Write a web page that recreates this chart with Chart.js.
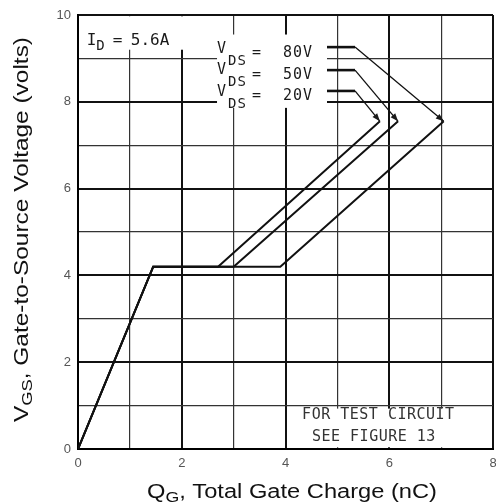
<!DOCTYPE html>
<html><head><meta charset="utf-8">
<script src="https://cdn.jsdelivr.net/npm/chart.js@4/dist/chart.umd.min.js"></script>
<style>html,body{margin:0;padding:0;background:#fff}</style>
</head><body>
<canvas id="c" width="496" height="504"></canvas>
<script>
// ---- data ----
const xTickLabels = [0, 2, 4, 6, 8];
const yTickLabels = [0, 2, 4, 6, 8, 10];
const seriesNames = ['20V', '50V', '80V'];
const q20 = [0, 1.45, 2.70, 5.82];
const v20 = [0, 4.2, 4.2, 7.55];
const q50 = [0, 1.45, 3.00, 6.17];
const v50 = [0, 4.2, 4.2, 7.55];
const q80 = [0, 1.45, 3.90, 7.05];
const v80 = [0, 4.2, 4.2, 7.55];

const toPts = (xs, ys) => xs.map((x, i) => ({x: x, y: ys[i]}));
const curves = [toPts(q20, v20), toPts(q50, v50), toPts(q80, v80)];

const MONO = '"DejaVu Sans Mono", monospace';
const SANS = '"Liberation Sans", Arial, sans-serif';

const annot = {
  id: 'annot',
  beforeDatasetsDraw(chart) {
    const {ctx, scales: {x, y}} = chart;
    const boxes = [[0.04, 2.5, 9.2, 9.97], [2.68, 4.8, 7.86, 9.55], [4.1, 7.96, 0.04, 0.93]];
    ctx.save();
    ctx.fillStyle = '#fff';
    boxes.forEach(b => {
      const x0 = x.getPixelForValue(b[0]), x1 = x.getPixelForValue(b[1]);
      const y0 = y.getPixelForValue(b[3]), y1 = y.getPixelForValue(b[2]);
      ctx.fillRect(x0, y0, x1 - x0, y1 - y0);
    });
    ctx.restore();
  },
  afterDatasetsDraw(chart) {
    const {ctx, scales: {x, y}} = chart;
    const X = v => x.getPixelForValue(v), Y = v => y.getPixelForValue(v);
    ctx.save();
    ctx.fillStyle = '#1a1a1a';
    ctx.strokeStyle = '#111';
    ctx.textBaseline = 'alphabetic';
    ctx.textAlign = 'left';
    // I_D = 5.6A
    let ax = X(0.17), ay = Y(9.31);
    ctx.font = '16px ' + MONO;
    ctx.fillText('I', ax, ay);
    ctx.font = '14px ' + MONO;
    ctx.fillText('D', ax + 9.5, ay + 5.5);
    ctx.font = '16px ' + MONO;
    ctx.fillText('=', ax + 26, ay);
    ctx.fillText('5.6A', ax + 44, ay);
    // VDS labels (80, 50, 20)
    const rowY = [9.03, 8.53, 8.03];
    const dashY = [9.26, 8.73, 8.25];
    const order = [2, 1, 0];
    order.forEach((si, r) => {
      const bx = X(2.68), by = Y(rowY[r]);
      ctx.font = '15px ' + MONO;
      ctx.letterSpacing = '0px';
      ctx.fillText('V', bx, by - 4.3);
      ctx.font = '14px ' + MONO;
      ctx.letterSpacing = '1px';
      ctx.fillText('DS', bx + 11, by + 7.7);
      ctx.font = '15px ' + MONO;
      ctx.letterSpacing = '0px';
      ctx.fillText('=', bx + 35, by);
      ctx.letterSpacing = '1px';
      ctx.fillText(seriesNames[si], bx + 66, by);
      ctx.letterSpacing = '0px';
      // dash
      const dy = Y(dashY[r]);
      ctx.lineWidth = 2.6;
      ctx.beginPath();
      ctx.moveTo(X(4.8), dy); ctx.lineTo(X(5.34), dy);
      ctx.stroke();
      // leader with arrow
      const pts = curves[si];
      const tip = pts[pts.length - 1];
      const sx = X(5.34), sy = dy, tx = X(tip.x), ty = Y(tip.y);
      ctx.lineWidth = 1.3;
      ctx.beginPath();
      ctx.moveTo(sx, sy); ctx.lineTo(tx, ty);
      ctx.stroke();
      const ang = Math.atan2(ty - sy, tx - sx);
      const L = 8, W = 3;
      ctx.beginPath();
      ctx.moveTo(tx, ty);
      ctx.lineTo(tx - L * Math.cos(ang) + W * Math.sin(ang), ty - L * Math.sin(ang) - W * Math.cos(ang));
      ctx.lineTo(tx - L * Math.cos(ang) - W * Math.sin(ang), ty - L * Math.sin(ang) + W * Math.cos(ang));
      ctx.closePath();
      ctx.fill();
    });
    // test circuit note
    ctx.font = '15px ' + MONO;
    ctx.letterSpacing = '0.5px';
    ctx.fillStyle = '#333';
    ctx.fillText('FOR TEST CIRCUIT', X(4.32), Y(0.69));
    ctx.fillText('SEE FIGURE 13', X(4.51), Y(0.18));
    ctx.letterSpacing = '0px';
    ctx.restore();
  },
  afterDraw(chart) {
    const {ctx} = chart;
    ctx.save();
    ctx.fillStyle = '#111';
    ctx.textAlign = 'left';
    ctx.textBaseline = 'alphabetic';
    const big = '20px ' + SANS, small = '15px ' + SANS;
    // draws a title with a subscript, stretched along its direction to a target length
    const drawSub = (parts, cx, base, target) => {
      let w = 0;
      parts.forEach(p => { ctx.font = p[1] ? small : big; w += ctx.measureText(p[0]).width; });
      const k = target / w;
      ctx.save();
      ctx.translate(cx, base);
      ctx.scale(k, 1);
      let px = -w / 2;
      parts.forEach(p => {
        ctx.font = p[1] ? small : big;
        ctx.fillText(p[0], px, p[1] ? 4 : 0);
        px += ctx.measureText(p[0]).width;
      });
      ctx.restore();
    };
    drawSub([['Q', 0], ['G', 1], [', Total Gate Charge (nC)', 0]], 292, 498, 290);
    ctx.translate(28, 229.5);
    ctx.rotate(-Math.PI / 2);
    drawSub([['V', 0], ['GS', 1], [', Gate-to-Source Voltage (volts)', 0]], 0, 0, 385);
    ctx.restore();
  }
};

const gridW = c => (c.tick && Math.round(c.tick.value) % 2 === 0) ? 2 : 1.2;
const gridC = c => (c.tick && Math.round(c.tick.value) % 2 === 0) ? '#111' : '#333';

new Chart(document.getElementById('c'), {
  type: 'scatter',
  data: {
    datasets: curves.map((pts, i) => ({
      label: seriesNames[i],
      data: pts,
      showLine: true,
      borderColor: '#111',
      borderWidth: 2,
      pointRadius: 0,
      tension: 0,
      fill: false
    }))
  },
  options: {
    responsive: false,
    animation: false,
    layout: {padding: {top: 15, right: 3, left: 0, bottom: 0}},
    plugins: {legend: {display: false}, tooltip: {enabled: false}},
    scales: {
      x: {
        type: 'linear', min: 0, max: 8,
        afterFit: s => { s.height = 55; s.paddingRight = 0; s.paddingLeft = 0; },
        ticks: {
          stepSize: 1, autoSkip: false, maxRotation: 0, padding: 7,
          color: '#555', font: {family: SANS, size: 13},
          callback: v => xTickLabels.includes(v) ? String(v) : ''
        },
        grid: {color: gridC, lineWidth: gridW, drawTicks: false},
        border: {display: true, color: '#000', width: 2}
      },
      y: {
        type: 'linear', min: 0, max: 10,
        afterFit: s => { s.width = 78; s.paddingTop = 0; s.paddingBottom = 0; },
        ticks: {
          stepSize: 1, autoSkip: false, padding: 7,
          color: '#555', font: {family: SANS, size: 13},
          callback: v => yTickLabels.includes(v) ? String(v) : ''
        },
        grid: {color: gridC, lineWidth: gridW, drawTicks: false},
        border: {display: true, color: '#000', width: 2}
      }
    }
  },
  plugins: [annot]
});
</script>
</body></html>
